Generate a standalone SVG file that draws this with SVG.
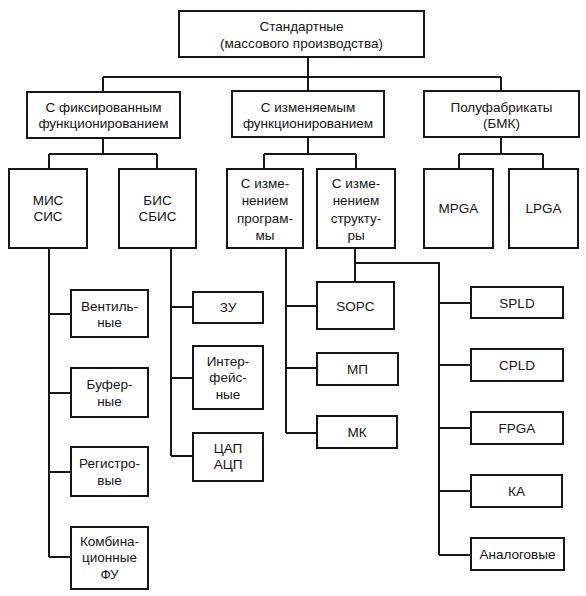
<svg xmlns="http://www.w3.org/2000/svg" width="586" height="596" viewBox="0 0 586 596">
<style>
rect{fill:#fff;stroke:#161616;stroke-width:2}
.c{fill:none;stroke:#161616;stroke-width:2}
text{font-family:"Liberation Sans",Arial,sans-serif;font-size:13.5px;fill:#151515;text-anchor:middle}
</style>
<rect x="0" y="0" width="586" height="596" style="fill:#fff;stroke:none"/>
<g id="connectors" class="c">
<path d="M308,57V77M103,77H501M103,77V92M308,77V91M501,77V91"/>
<path d="M103,138V154M49,154H157M49,154V169M157,154V169"/>
<path d="M308,137V154M264,154H356M264,154V169M356,154V169"/>
<path d="M501,137V154M459,154H543M459,154V169M543,154V169"/>
<path d="M49,248V557M49,314H71M49,393H71M49,472H71M49,557H71"/>
<path d="M171,248V456M171,307H193M171,378H193M171,456H193"/>
<path d="M286,248V433M286,306H317M286,368H317M286,433H317"/>
<path d="M355,248V282M355,263H439V555M439,303H471M439,365H471M439,428H471M439,491H471M439,555H471"/>
</g>
<g id="n-top"><rect x="179" y="11" width="245" height="46"/><text x="301.5" y="30.5">Стандартные</text><text x="301.5" y="47.5">(массового производства)</text></g>
<g id="n-fixed"><rect x="27" y="92" width="153" height="46"/><text x="103.5" y="111.5">С фиксированным</text><text x="103.5" y="128">функционированием</text></g>
<g id="n-var"><rect x="232" y="91" width="152" height="46"/><text x="308" y="111.5">С изменяемым</text><text x="308" y="128">функционированием</text></g>
<g id="n-bmk"><rect x="424" y="91" width="155" height="46"/><text x="501.5" y="111.5">Полуфабрикаты</text><text x="501.5" y="128">(БМК)</text></g>
<g id="n-mis"><rect x="9" y="169" width="78" height="79"/><text x="48" y="204.5">МИС</text><text x="48" y="220.5">СИС</text></g>
<g id="n-bis"><rect x="119" y="169" width="77" height="79"/><text x="157.5" y="204.5">БИС</text><text x="157.5" y="220.5">СБИС</text></g>
<g id="n-prog"><rect x="227" y="169" width="76" height="79"/><text x="265" y="187.5">С изме-</text><text x="265" y="205">нением</text><text x="265" y="222.5">програм-</text><text x="265" y="240">мы</text></g>
<g id="n-struct"><rect x="317" y="169" width="78" height="79"/><text x="356" y="187.5">С изме-</text><text x="356" y="205">нением</text><text x="356" y="222.5">структу-</text><text x="356" y="240">ры</text></g>
<g id="n-mpga"><rect x="424" y="169" width="69" height="79"/><text x="458.5" y="213">MPGA</text></g>
<g id="n-lpga"><rect x="509" y="169" width="69" height="79"/><text x="543.5" y="213">LPGA</text></g>
<g id="n-vent"><rect x="71" y="290" width="77" height="47"/><text x="109.5" y="310.5">Вентиль-</text><text x="109.5" y="327">ные</text></g>
<g id="n-buf"><rect x="71" y="368" width="77" height="49"/><text x="109.5" y="389">Буфер-</text><text x="109.5" y="405.5">ные</text></g>
<g id="n-reg"><rect x="71" y="447" width="77" height="49"/><text x="109.5" y="468">Регистро-</text><text x="109.5" y="484.5">вые</text></g>
<g id="n-komb"><rect x="71" y="527" width="77" height="62"/><text x="109.5" y="545.5">Комбина-</text><text x="109.5" y="562">ционные</text><text x="109.5" y="578.5">ФУ</text></g>
<g id="n-zu"><rect x="193" y="292" width="70" height="31"/><text x="228" y="312">ЗУ</text></g>
<g id="n-intf"><rect x="193" y="346" width="70" height="63"/><text x="228" y="365.5">Интер-</text><text x="228" y="382">фейс-</text><text x="228" y="398.5">ные</text></g>
<g id="n-cap"><rect x="193" y="433" width="70" height="48"/><text x="228" y="453">ЦАП</text><text x="228" y="469">АЦП</text></g>
<g id="n-sopc"><rect x="317" y="282" width="77" height="47"/><text x="355.5" y="310.5">SOPC</text></g>
<g id="n-mp"><rect x="317" y="353" width="81" height="32"/><text x="357.5" y="373.5">МП</text></g>
<g id="n-mk"><rect x="317" y="416" width="80" height="32"/><text x="357" y="436.5">МК</text></g>
<g id="n-spld"><rect x="471" y="287" width="92" height="31"/><text x="517" y="307.5">SPLD</text></g>
<g id="n-cpld"><rect x="471" y="349" width="92" height="32"/><text x="517" y="369.5">CPLD</text></g>
<g id="n-fpga"><rect x="471" y="412" width="92" height="32"/><text x="517" y="432.5">FPGA</text></g>
<g id="n-ka"><rect x="471" y="475" width="91" height="32"/><text x="516.5" y="495.5">КА</text></g>
<g id="n-analog"><rect x="471" y="538" width="93" height="32"/><text x="517.5" y="558.5">Аналоговые</text></g>
</svg>
